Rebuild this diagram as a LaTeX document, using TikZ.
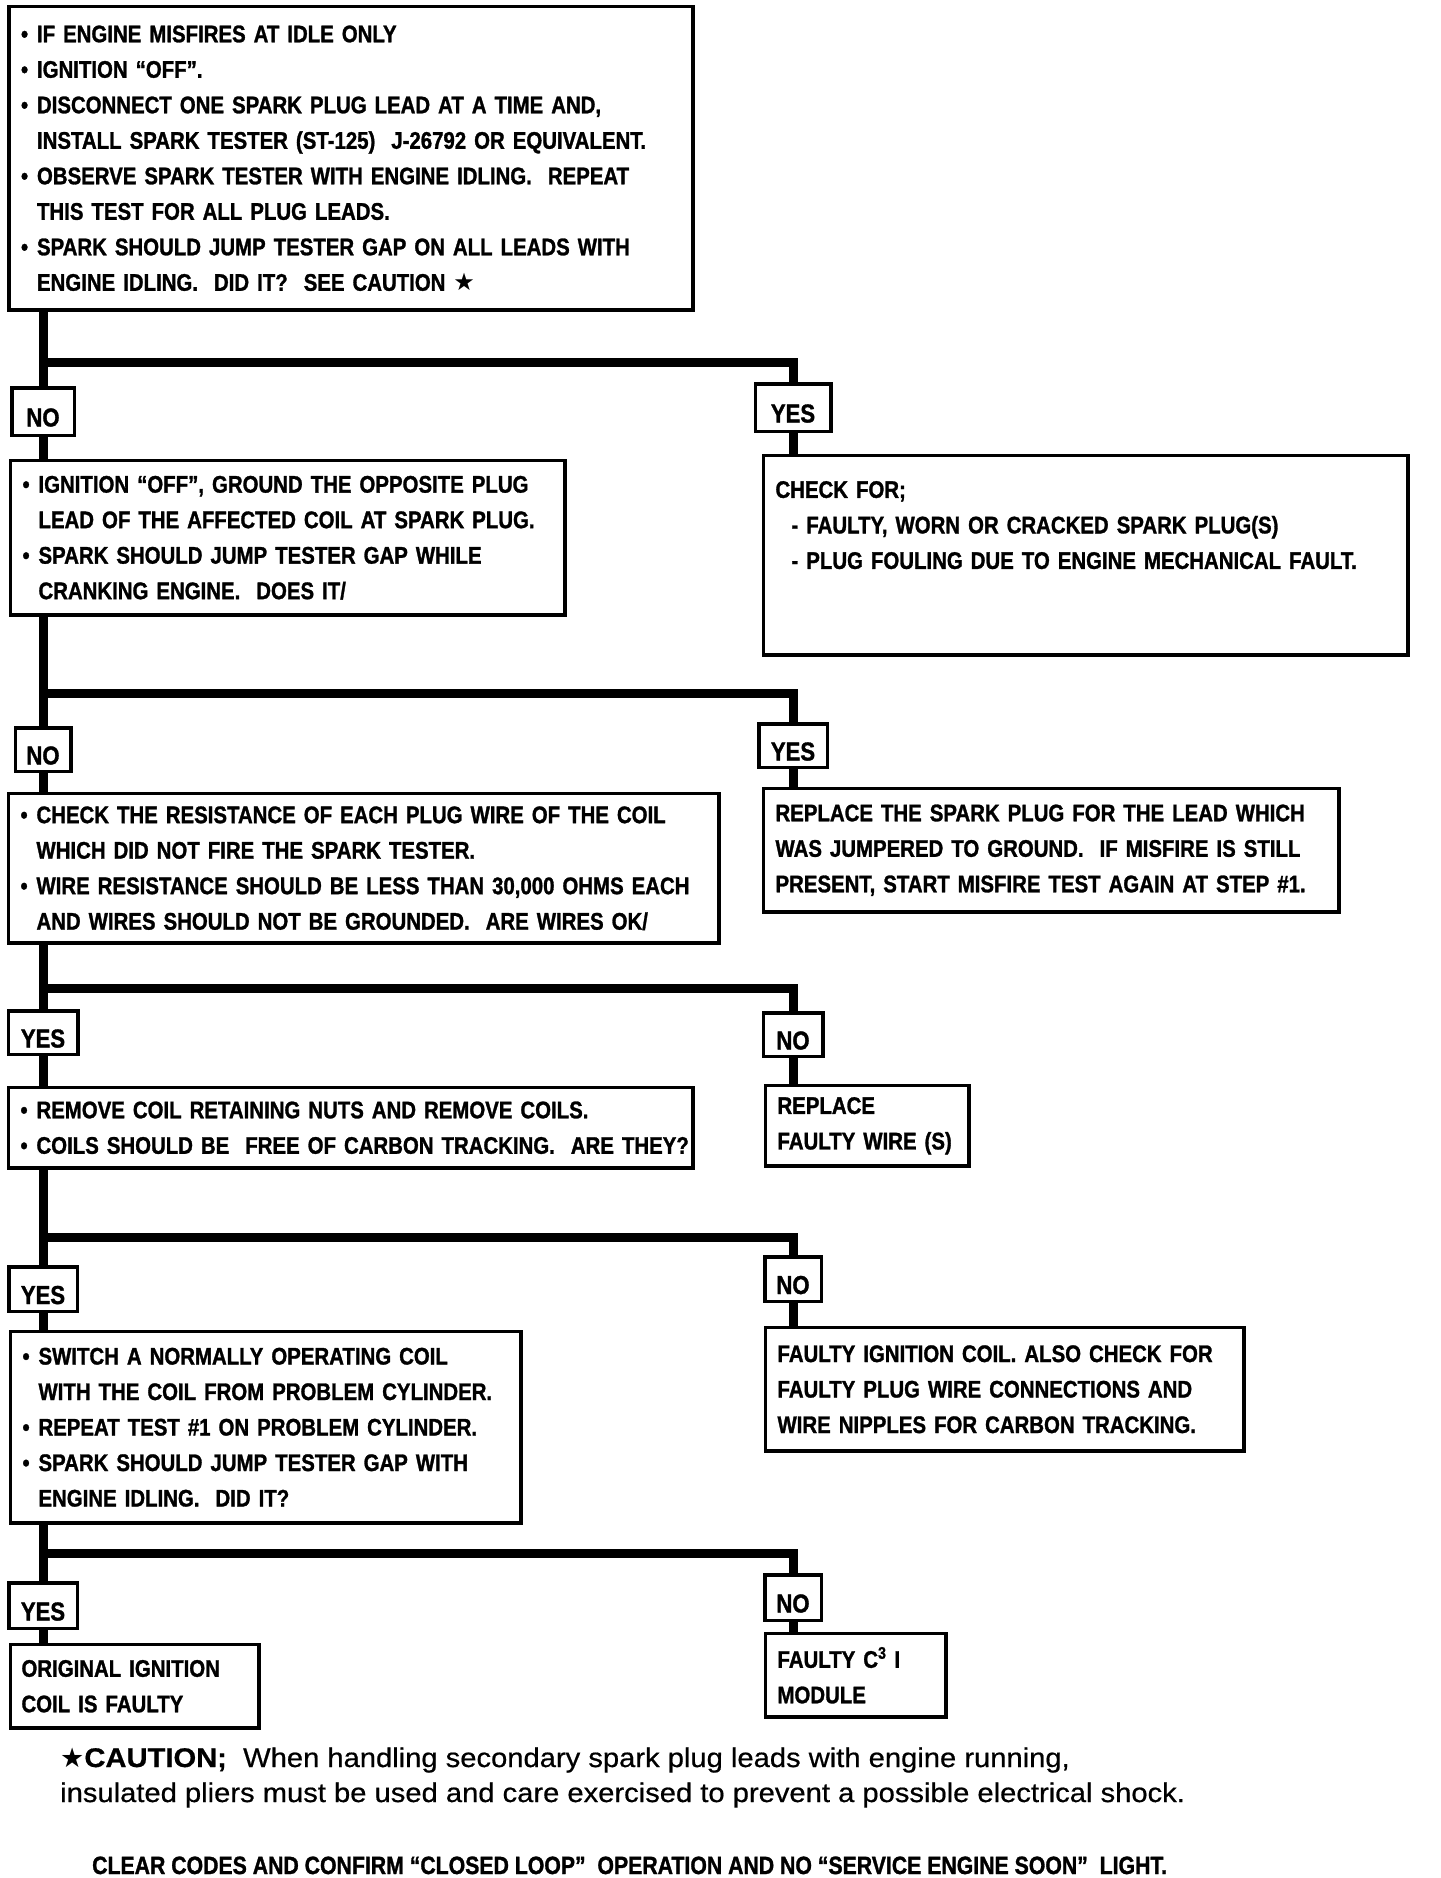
\documentclass[tikz,border=0pt]{standalone}
\usepackage{fontspec}
\setmainfont{Liberation Sans}
\newfontfamily\boxfont[FakeStretch=0.85,FakeBold=1.2]{Liberation Sans}
\newfontfamily\caufont[FakeStretch=1.08,FakeBold=0.6]{Liberation Sans}
\newfontfamily\symfont{DejaVu Sans}
\newcommand\itm[1]{\mbox{\makebox[16pt][l]{•}#1}}
\newcommand\cnt[1]{\mbox{\hspace*{16pt}#1}}
\newcommand\lnx[1]{\mbox{#1}}
\newcommand\lab[1]{\raisebox{-15pt}[0pt][0pt]{#1}}
\begin{document}
\begin{tikzpicture}[x=1pt,y=-1pt,
  box/.style={draw, line width=3.5pt, anchor=north west, inner xsep=12pt, inner ysep=0pt,
    align=left, font=\boxfont\bfseries\fontsize{24}{35.5}\selectfont},
  lbl/.style={draw, line width=3.5pt, inner sep=0pt,
    font=\boxfont\bfseries\fontsize{26}{30}\selectfont},
  conn/.style={line width=9pt, line join=miter},
  note/.style={anchor=base west, inner sep=0pt}]
\fill[white] (0,0) rectangle (1440,1878);
\useasboundingbox (0,0) rectangle (1440,1878);

% ---------- boxes ----------
\node[box, minimum width=684pt, text width=660pt, minimum height=303.5pt] (b1) at (7.25,4.75) {%
\itm{IF ENGINE MISFIRES AT IDLE ONLY}\\
\itm{IGNITION “OFF”.}\\
\itm{DISCONNECT ONE SPARK PLUG LEAD AT A TIME AND,}\\
\cnt{INSTALL SPARK TESTER (ST-125)~ J-26792 OR EQUIVALENT.}\\
\itm{OBSERVE SPARK TESTER WITH ENGINE IDLING.~ REPEAT}\\
\cnt{THIS TEST FOR ALL PLUG LEADS.}\\
\itm{SPARK SHOULD JUMP TESTER GAP ON ALL LEADS WITH}\\
\cnt{ENGINE IDLING.~ DID IT?~ SEE CAUTION {\symfont ★}}};

\node[box, minimum width=554.5pt, text width=530.5pt, minimum height=154.5pt] (b2) at (8.75,458.75) {%
\itm{IGNITION “OFF”, GROUND THE OPPOSITE PLUG}\\
\cnt{LEAD OF THE AFFECTED COIL AT SPARK PLUG.}\\
\itm{SPARK SHOULD JUMP TESTER GAP WHILE}\\
\cnt{CRANKING ENGINE.~ DOES IT/}};

\node[box, minimum width=644.5pt, text width=620.5pt, minimum height=199.5pt] (c1) at (761.75,453.75) {%
\lnx{CHECK FOR;}\\
\lnx{\hspace*{16pt}- FAULTY, WORN OR CRACKED SPARK PLUG(S)}\\
\lnx{\hspace*{16pt}- PLUG FOULING DUE TO ENGINE MECHANICAL FAULT.}\\[25pt]
\mbox{}};

\node[box, minimum width=710.5pt, text width=686.5pt, minimum height=149.5pt] (b3) at (6.75,791.75) {%
\itm{CHECK THE RESISTANCE OF EACH PLUG WIRE OF THE COIL}\\
\cnt{WHICH DID NOT FIRE THE SPARK TESTER.}\\
\itm{WIRE RESISTANCE SHOULD BE LESS THAN 30,000 OHMS EACH}\\
\cnt{AND WIRES SHOULD NOT BE GROUNDED.~ ARE WIRES OK/}};

\node[box, minimum width=575.5pt, text width=551.5pt, minimum height=123.5pt] (r1) at (761.75,786.75) {%
\lnx{REPLACE THE SPARK PLUG FOR THE LEAD WHICH}\\
\lnx{WAS JUMPERED TO GROUND.~ IF MISFIRE IS STILL}\\
\lnx{PRESENT, START MISFIRE TEST AGAIN AT STEP \#1.}};

\node[box, minimum width=684.5pt, text width=660.5pt, minimum height=80.5pt] (b4) at (6.75,1085.75) {%
\itm{REMOVE COIL RETAINING NUTS AND REMOVE COILS.}\\
\itm{COILS SHOULD BE~ FREE OF CARBON TRACKING.~ ARE THEY?}};

\node[box, minimum width=203.5pt, text width=179.5pt, minimum height=80.5pt] (r2) at (763.75,1083.75) {%
\lnx{REPLACE}\\
\lnx{FAULTY WIRE (S)}};

\node[box, minimum width=510.5pt, text width=486.5pt, minimum height=191.5pt] (b5) at (8.75,1329.75) {%
\itm{SWITCH A NORMALLY OPERATING COIL}\\
\cnt{WITH THE COIL FROM PROBLEM CYLINDER.}\\
\itm{REPEAT TEST \#1 ON PROBLEM CYLINDER.}\\
\itm{SPARK SHOULD JUMP TESTER GAP WITH}\\
\cnt{ENGINE IDLING.~ DID IT?}};

\node[box, minimum width=478.5pt, text width=454.5pt, minimum height=123.5pt] (r3) at (763.75,1325.75) {%
\lnx{FAULTY IGNITION COIL. ALSO CHECK FOR}\\
\lnx{FAULTY PLUG WIRE CONNECTIONS AND}\\
\lnx{WIRE NIPPLES FOR CARBON TRACKING.}};

\node[box, minimum width=248.5pt, text width=226.5pt, minimum height=83.5pt, inner xsep=11pt] (b6) at (8.75,1642.75) {%
\lnx{ORIGINAL IGNITION}\\
\lnx{COIL IS FAULTY}};

\node[box, minimum width=180.5pt, text width=156.5pt, minimum height=83.5pt] (r4) at (763.75,1631.75) {%
\lnx{FAULTY C\textsuperscript{3} I}\\
\lnx{MODULE}};

% ---------- labels ----------
\node[lbl, minimum width=62.5pt, minimum height=47.5pt] (no1)  at (43,411.5)  {\lab{NO}};
\node[lbl, minimum width=75.5pt, minimum height=47.5pt] (yes1) at (793,407.5) {\lab{YES}};
\node[lbl, minimum width=55.5pt, minimum height=43.5pt] (no2)  at (43,749.5)  {\lab{NO}};
\node[lbl, minimum width=68.5pt, minimum height=43.5pt] (yes2) at (793,745.5) {\lab{YES}};
\node[lbl, minimum width=69.5pt, minimum height=43.5pt] (yes3) at (43,1032.5) {\lab{YES}};
\node[lbl, minimum width=59.5pt, minimum height=43.5pt] (no3)  at (793,1034.5) {\lab{NO}};
\node[lbl, minimum width=68.5pt, minimum height=44.5pt] (yes4) at (43,1289)   {\lab{YES}};
\node[lbl, minimum width=56.5pt, minimum height=44.5pt] (no4)  at (793,1279)  {\lab{NO}};
\node[lbl, minimum width=68.5pt, minimum height=45.5pt] (yes5) at (43,1605.5) {\lab{YES}};
\node[lbl, minimum width=56.5pt, minimum height=45.5pt] (no5)  at (793,1597.5) {\lab{NO}};

% ---------- junctions ----------
\coordinate (j1) at (43,362);
\coordinate (j2) at (43,693);
\coordinate (j3) at (43,988);
\coordinate (j4) at (43,1237);
\coordinate (j5) at (43,1553);

% ---------- connectors ----------
\draw[conn] (no1 |- b1.south) -- (no1.north);
\draw[conn] (j1) -| (yes1.north);
\draw[conn] (no1.south) -- (no1 |- b2.north);
\draw[conn] (yes1.south) -- (yes1 |- c1.north);

\draw[conn] (no2 |- b2.south) -- (no2.north);
\draw[conn] (j2) -| (yes2.north);
\draw[conn] (no2.south) -- (no2 |- b3.north);
\draw[conn] (yes2.south) -- (yes2 |- r1.north);

\draw[conn] (yes3 |- b3.south) -- (yes3.north);
\draw[conn] (j3) -| (no3.north);
\draw[conn] (yes3.south) -- (yes3 |- b4.north);
\draw[conn] (no3.south) -- (no3 |- r2.north);

\draw[conn] (yes4 |- b4.south) -- (yes4.north);
\draw[conn] (j4) -| (no4.north);
\draw[conn] (yes4.south) -- (yes4 |- b5.north);
\draw[conn] (no4.south) -- (no4 |- r3.north);

\draw[conn] (yes5 |- b5.south) -- (yes5.north);
\draw[conn] (j5) -| (no5.north);
\draw[conn] (yes5.south) -- (yes5 |- b6.north);
\draw[conn] (no5.south) -- (no5 |- r4.north);

% ---------- notes ----------
\node[note, font=\caufont\fontsize{27}{30}\selectfont] (cau1) at (60,1767)
  {{\symfont ★}\textbf{CAUTION;}~ When handling secondary spark plug leads with engine running,};
\node[note, font=\caufont\fontsize{27}{30}\selectfont] (cau2) at (60,1802)
  {insulated pliers must be used and care exercised to prevent a possible electrical shock.};
\node[note, font=\boxfont\bfseries\fontsize{25}{25}\selectfont] (clr) at (92,1874)
  {CLEAR CODES AND CONFIRM “CLOSED LOOP”~ OPERATION AND NO “SERVICE ENGINE SOON”~ LIGHT.};
\end{tikzpicture}
\end{document}
